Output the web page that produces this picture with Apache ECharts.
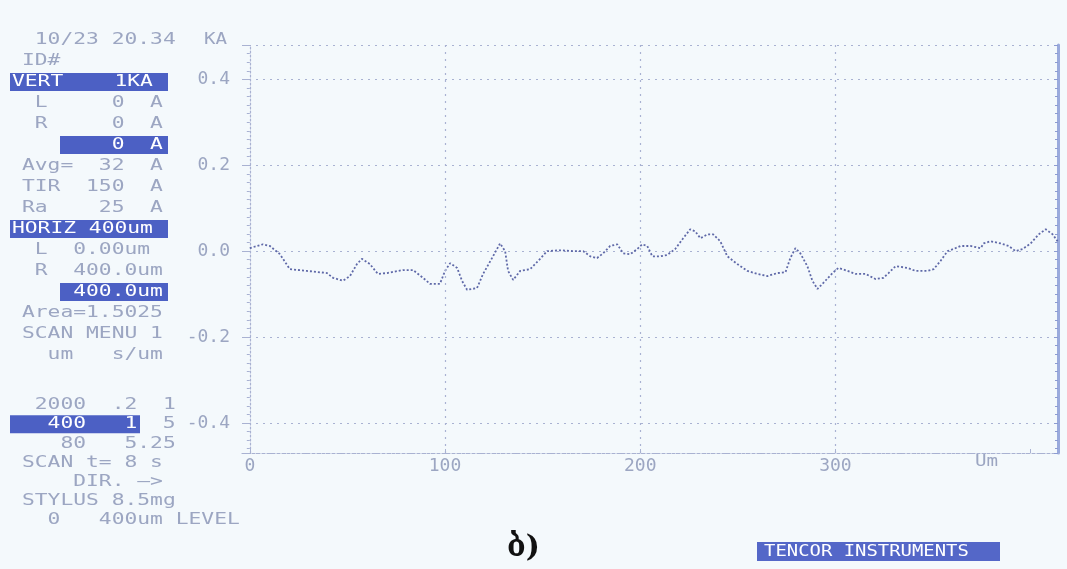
<!DOCTYPE html>
<html>
<head>
<meta charset="UTF-8" />
<title>profile</title>
<script src="https://cdn.jsdelivr.net/npm/echarts@6/dist/echarts.min.js"></script>
<style>
  html, body { margin: 0; padding: 0; background: #f4f9fc; }
  #main { width: 1067px; height: 569px; }
</style>
</head>
<body>
<div id="main"></div>
<script>
// profile trace, um / kA
var posUm = [0, 6.7, 10.3, 15.4, 20.5, 29.2, 39.5, 42.6, 47.7, 51.3, 54.9, 57.4, 61.5, 65.6, 70.3, 78.5, 83.6, 88.7, 92.3, 97.4,
  100, 102.6, 106.2, 108.7, 111.3, 116.4, 119.5, 124.6, 128.2, 130.8, 132.3, 134.9, 138.5, 143.6, 148.7, 152.3, 159, 165.6, 170.8, 174.4,
  177.9, 181, 184.6, 188.2, 191.3, 194.9, 198.5, 201, 203.6, 206.2, 210.3, 213.8, 217.9, 222, 225.6, 228.2, 230.8, 234.4, 237.4, 241,
  244.6, 249.7, 254.9, 260, 265.1, 270.3, 274.4, 276.9, 279.5, 282, 285.6, 288.2, 290.8, 293.8, 298.5, 301.5, 306.2, 310.3, 315.4, 320.5,
  324.6, 327.2, 330.8, 336.9, 341, 347.2, 350.3, 353.8, 357.4, 360.5, 364.1, 369.2, 374.4, 375.9, 379.5, 384.6, 388.7, 392.3, 395.9, 400,
  404.1, 407.7, 411.3, 413.8];
var heightKA = [0.007, 0.016, 0.012, -0.007, -0.042, -0.046, -0.051, -0.062, -0.069, -0.058, -0.030, -0.018, -0.030, -0.053, -0.051, -0.044, -0.044, -0.062, -0.076, -0.076,
  -0.046, -0.028, -0.039, -0.069, -0.090, -0.086, -0.053, -0.012, 0.018, 0.000, -0.046, -0.067, -0.046, -0.042, -0.018, 0.000, 0.002, 0.000, 0.000, -0.012,
  -0.016, -0.005, 0.012, 0.016, -0.005, -0.007, 0.005, 0.016, 0.012, -0.012, -0.012, -0.009, 0.005, 0.030, 0.051, 0.046, 0.030, 0.039, 0.039, 0.023,
  -0.012, -0.030, -0.046, -0.053, -0.058, -0.051, -0.049, -0.016, 0.007, -0.005, -0.035, -0.069, -0.088, -0.074, -0.051, -0.039, -0.046, -0.053, -0.053, -0.065,
  -0.062, -0.051, -0.035, -0.039, -0.046, -0.046, -0.042, -0.023, 0.000, 0.005, 0.012, 0.012, 0.007, 0.018, 0.023, 0.018, 0.012, 0.000, 0.005, 0.018,
  0.039, 0.051, 0.039, 0.023];
var xGridMarks = [100, 200, 300];

// instrument side panel
var panelTop = [' 10/23 20.34', 'ID#', 'VERT    1KA', ' L     0  A', ' R     0  A', '       0  A', 'Avg=  32  A', 'TIR  150  A',
  'Ra    25  A', 'HORIZ 400um', ' L  0.00um', ' R  400.0um', '    400.0um', 'Area=1.5025', 'SCAN MENU 1', '  um   s/um'];
var panelBottom = [' 2000  .2  1', '  400   1  5', '   80   5.25', 'SCAN t= 8 s', '    DIR. \u2014>', 'STYLUS 8.5mg', '  0   400um LEVEL'];
var yUnit = 'KA';
var xUnit = 'Um';
var footer = 'TENCOR INSTRUMENTS';
var caption = '\u10d1)';

var txtColor = '#9ca6c2';
var boxColor = '#4c60c4';
var gridColor = '#a9b2d2';
var mono = '"DejaVu Sans Mono", "Liberation Mono", monospace';

var chart = echarts.init(document.getElementById('main'));

// boxes: which rows are highlighted and over which span
var boxesTop = [{ row: 2, x0: 10, x1: 168, tx: 12 }, { row: 5, x0: 60, x1: 168 }, { row: 9, x0: 10, x1: 168, tx: 12 }, { row: 12, x0: 60, x1: 168 }];
var boxesBottom = [{ row: 1, x0: 10, x1: 140, split: 9 }];

function rowY(block, i) {
  return block === 0 ? 40 + i * 21 : 405 + i * 19.2;
}

var graphics = [];
function addLines(lines, block, boxes) {
  lines.forEach(function (s, i) {
    var y = rowY(block, i);
    var box = null;
    boxes.forEach(function (b) { if (b.row === i) box = b; });
    var tx = 22;
    if (box) {
      graphics.push({ type: 'rect', shape: { x: box.x0, y: y - 9, width: box.x1 - box.x0, height: 18 }, style: { fill: boxColor }, z: 1 });
      if (box.tx) tx = box.tx;
    }
    if (box && box.split) {
      graphics.push({ type: 'text', x: tx, y: y, scaleX: 1.33, z: 2,
        style: { text: s.slice(0, box.split), font: '16px ' + mono, fill: '#ffffff', verticalAlign: 'middle' } });
      graphics.push({ type: 'text', x: tx + box.split * 12.8, y: y, scaleX: 1.33, z: 2,
        style: { text: s.slice(box.split), font: '16px ' + mono, fill: txtColor, verticalAlign: 'middle' } });
    } else {
      graphics.push({ type: 'text', x: tx, y: y, scaleX: 1.33, z: 2,
        style: { text: s, font: '16px ' + mono, fill: box ? '#ffffff' : txtColor, verticalAlign: 'middle' } });
    }
  });
}
addLines(panelTop, 0, boxesTop);
addLines(panelBottom, 1, boxesBottom);

graphics.push({ type: 'text', x: 204, y: 40, scaleX: 1.2, style: { text: yUnit, font: '16px ' + mono, fill: txtColor, verticalAlign: 'middle' } });
graphics.push({ type: 'text', x: 975, y: 462, scaleX: 1.2, style: { text: xUnit, font: '16px ' + mono, fill: txtColor, verticalAlign: 'middle' } });
graphics.push({ type: 'rect', shape: { x: 757, y: 542, width: 243, height: 19 }, style: { fill: '#5467c8' } });
graphics.push({ type: 'text', x: 764, y: 552, scaleX: 1.26, style: { text: footer, font: '15px ' + mono, fill: '#ffffff', verticalAlign: 'middle' } });
graphics.push({ type: 'text', x: 507, y: 548, style: { text: caption, font: 'bold 30px "DejaVu Serif", "DejaVu Sans", serif', fill: '#111111', verticalAlign: 'middle' } });

var pts = posUm.map(function (x, i) { return [x, heightKA[i]]; });

chart.setOption({
  backgroundColor: '#f4f9fc',
  animation: false,
  grid: { left: 242, right: 9, top: 45, bottom: 116 },
  xAxis: {
    type: 'value',
    min: -4,
    max: 414,
    splitNumber: 4,
    axisLine: { show: true, onZero: false, lineStyle: { color: gridColor, type: [3, 2], width: 1.2 } },
    axisTick: { show: true, inside: true, length: 4, lineStyle: { color: gridColor } },
    splitLine: { show: false },
    axisLabel: {
      color: txtColor, fontFamily: mono, fontSize: 18, margin: 4,
      showMinLabel: false, showMaxLabel: false,
      formatter: function (v) { return v >= 400 ? '' : String(v); }
    }
  },
  yAxis: [{
    type: 'value',
    min: -0.47,
    max: 0.48,
    splitNumber: 5,
    axisLine: { show: true, lineStyle: { color: gridColor, type: [2, 2], width: 1.2 } },
    axisTick: { show: true, length: 6, lineStyle: { color: gridColor } },
    minorTick: { show: true, splitNumber: 10, length: 3, lineStyle: { color: gridColor } },
    splitLine: { show: true, lineStyle: { color: gridColor, type: [2, 5], width: 1.2 } },
    axisLabel: {
      color: txtColor, fontFamily: mono, fontSize: 18, margin: 12,
      showMinLabel: false, showMaxLabel: false,
      formatter: function (v) { return v.toFixed(1); }
    }
  }, {
    type: 'value',
    position: 'right',
    min: -0.47,
    max: 0.48,
    splitNumber: 5,
    axisLine: { show: true, lineStyle: { color: '#9aaadc', width: 3 } },
    axisTick: { show: true, inside: true, length: 4, lineStyle: { color: '#8c9bd2' } },
    minorTick: { show: true, splitNumber: 10, length: 3, lineStyle: { color: '#8c9bd2' } },
    splitLine: { show: false },
    axisLabel: { show: false }
  }],
  series: [{
    type: 'line',
    data: pts,
    symbol: 'none',
    lineStyle: { color: '#5f69a8', width: 1.8, type: [2, 2] },
    markLine: {
      silent: true,
      symbol: 'none',
      label: { show: false },
      lineStyle: { color: gridColor, type: [2, 5], width: 1.2 },
      data: xGridMarks.map(function (v) { return { xAxis: v }; })
    }
  }],
  graphic: graphics
});
</script>
</body>
</html>
